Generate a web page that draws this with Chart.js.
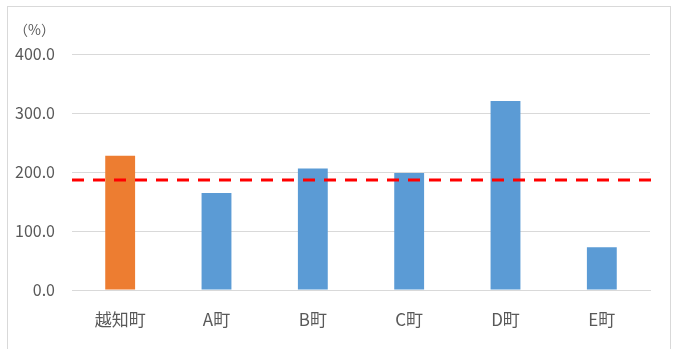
<!DOCTYPE html>
<html>
<head>
<meta charset="utf-8">
<script src="https://cdn.jsdelivr.net/npm/chart.js@4/dist/chart.umd.min.js"></script>
<style>
  html, body { margin: 0; padding: 0; background: #fff; }
  #wrap { width: 677px; height: 349px; }
</style>
</head>
<body>
<div id="wrap"><canvas id="townChart"></canvas></div>
<script>
const towns = ['越知町', 'A町', 'B町', 'C町', 'D町', 'E町'];
const ratios = [227.5, 164.5, 206.0, 198.5, 320.5, 72.5];
const barColors = ['#ED7D31', '#5B9BD5', '#5B9BD5', '#5B9BD5', '#5B9BD5', '#5B9BD5'];
const refLine = 186.5;
const yTicks = [0, 100, 200, 300, 400];

const FONT = '"Noto Sans CJK JP", "Noto Sans", sans-serif';
const TEXT = '#595959';

// outer frame, unit label and the dashed reference line
const extras = {
  id: 'extras',
  beforeDraw(chart) {
    const c = chart.ctx;
    c.save();
    c.strokeStyle = '#D9D9D9';
    c.lineWidth = 1;
    c.strokeRect(7.5, 6.5, 663, 360);
    c.fillStyle = TEXT;
    c.font = '14px ' + FONT;
    c.textBaseline = 'middle';
    c.fillText('（%）', 14, 30);
    c.restore();
  },
  afterDatasetsDraw(chart) {
    const c = chart.ctx;
    const y = chart.scales.y.getPixelForValue(refLine);
    const a = chart.chartArea;
    c.save();
    c.strokeStyle = '#FF0000';
    c.lineWidth = 3;
    c.setLineDash([12, 9]);
    c.beginPath();
    c.moveTo(a.left, y);
    c.lineTo(a.right + 7, y);
    c.stroke();
    c.restore();
  }
};

new Chart(document.getElementById('townChart'), {
  type: 'bar',
  data: {
    labels: towns,
    datasets: [{
      data: ratios,
      backgroundColor: barColors,
      borderWidth: 0,
      barPercentage: 0.31,
      categoryPercentage: 1
    }]
  },
  plugins: [extras],
  options: {
    responsive: true,
    maintainAspectRatio: false,
    animation: false,
    layout: { padding: { left: 12, right: 27, top: 54, bottom: 19 } },
    plugins: {
      legend: { display: false },
      tooltip: { enabled: false }
    },
    scales: {
      x: {
        grid: { display: false },
        border: { color: '#D9D9D9', width: 1 },
        ticks: { color: TEXT, font: { family: FONT, size: 17 }, padding: 11 },
        afterFit(s) { s.height = 40; }
      },
      y: {
        min: 0,
        max: 400,
        afterBuildTicks(s) { s.ticks = yTicks.map(v => ({ value: v })); },
        grid: { color: '#D9D9D9', drawTicks: false },
        border: { display: false },
        ticks: {
          color: TEXT,
          font: { family: FONT, size: 16 },
          padding: 17,
          callback: v => v.toFixed(1)
        },
        afterFit(s) { s.width = 60; }
      }
    }
  }
});
</script>
</body>
</html>
